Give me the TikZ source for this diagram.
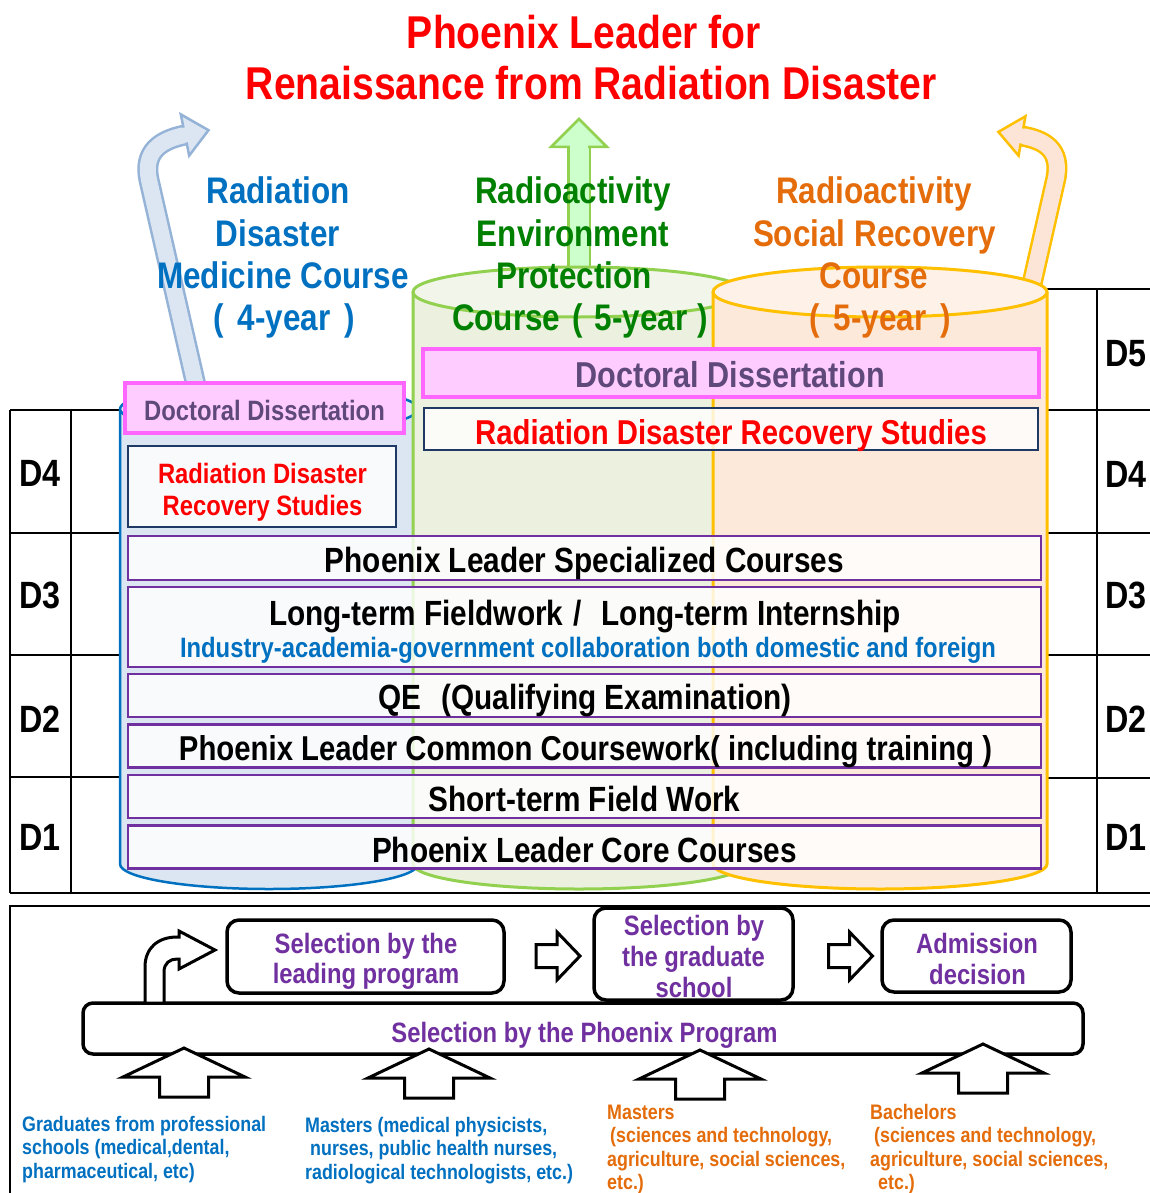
\documentclass[tikz,border=0pt]{standalone}
\usepackage{fontspec}
\setmainfont{Liberation Sans}[FakeStretch=0.85]
\usetikzlibrary{calc}
\definecolor{tred}{HTML}{FF0000}
\definecolor{cblue}{HTML}{0070C0}
\definecolor{cgreen}{HTML}{008000}
\definecolor{corange}{HTML}{E46C0A}
\definecolor{purp}{HTML}{7030A0}
\definecolor{docc}{HTML}{5F497A}
\definecolor{pinkf}{HTML}{FFCCFF}
\definecolor{pinkd}{HTML}{FF66FF}
\definecolor{navy}{HTML}{1F3864}
\definecolor{bfill}{HTML}{DCE6F2}
\definecolor{btop}{HTML}{E8EEF7}
\definecolor{gfill}{HTML}{EBF1DE}
\definecolor{gtop}{HTML}{F2F6EA}
\definecolor{gline}{HTML}{92D050}
\definecolor{ofill}{HTML}{FDE9D9}
\definecolor{otop}{HTML}{FEF1E8}
\definecolor{oline}{HTML}{FFC000}
\definecolor{barrl}{HTML}{95B3D7}
\definecolor{garrf}{HTML}{CCFFCC}
\definecolor{oarrf}{HTML}{FCE4D6}
\newcommand\rarr[1]{\draw[blk,shift={#1}] (-22,-11.5) -- (-1,-11.5) -- (-1,-24) -- (22,0) -- (-1,24) -- (-1,11.5) -- (-22,11.5) -- cycle;}
\newcommand\uarr[1]{\draw[blk,shift={#1}] (0,0) -- (61,29) -- (24.5,29) -- (24.5,49) -- (-24.5,49) -- (-24.5,29) -- (-61,29) -- cycle;}
\begin{document}
\begin{tikzpicture}[x=1pt,y=-1pt,
  tx/.style={inner sep=0pt, anchor=base, font=\bfseries\fontsize{#1}{#1}\selectfont},
  txl/.style={inner sep=0pt, anchor=base west, font=\bfseries\fontsize{#1}{#1}\selectfont},
  tbl/.style={line width=2pt, draw=black},
  pbox/.style={draw=purp, line width=2.5pt, fill=white, fill opacity=0.82, inner sep=0pt, minimum width=913pt},
  dbox/.style={draw=pinkd, line width=3.5pt, fill=pinkf, inner sep=0pt},
  nbox/.style={draw=navy, line width=2pt, fill=white, fill opacity=0.8, inner sep=0pt},
  rbox/.style={draw=black, line width=3.5pt, rounded corners=12pt, fill=white, inner sep=0pt},
  blk/.style={draw=black, line width=3pt, fill=white, line join=miter},
]
\useasboundingbox (0,0) rectangle (1150,1193);
\fill[white] (0,0) rectangle (1150,1193);

% ---------- tables ----------
\draw[tbl] (10,410) -- (122,410) (10,533) -- (122,533) (10,655) -- (122,655) (10,777) -- (122,777);
\draw[tbl] (10,410) -- (10,893) (71,410) -- (71,893);
\draw[tbl] (10,893) -- (1150,893);
\draw[tbl] (1040,289) -- (1150,289) (1040,410) -- (1150,410) (1040,533) -- (1150,533) (1040,655) -- (1150,655) (1040,778) -- (1150,778);
\draw[tbl] (1097,289) -- (1097,893);

% ---------- arrows to the top ----------
\draw[draw=barrl, double=bfill, double distance=16pt, line width=2.5pt] (197,390) -- (149,180) .. controls (143,152) and (160,140) .. (185,135);
\filldraw[fill=bfill, draw=barrl, line width=2.5pt, line join=miter] (180.8,114.4) -- (208.5,130.2) -- (189.2,155.6) -- cycle;
\draw[bfill, line width=15pt] (179.1,136.2) -- (188,134.4);

\draw[draw=gline, double=garrf, double distance=19pt, line width=2.5pt] (579,290) -- (579,147);
\filldraw[fill=garrf, draw=gline, line width=2.5pt, line join=miter] (551,147) -- (579,119) -- (607,147) -- cycle;
\draw[garrf, line width=18pt] (579,152) -- (579,143);

\draw[draw=oline, double=oarrf, double distance=16pt, line width=2.5pt] (1031,288) -- (1056,178) .. controls (1061,150) and (1045,140) .. (1022,136);
\filldraw[fill=oarrf, draw=oline, line width=2.5pt, line join=miter] (1025.4,116.3) -- (998.4,131.9) -- (1018.6,155.7) -- cycle;
\draw[oarrf, line width=15pt] (1027.9,137.0) -- (1019.0,135.5);

% ---------- cylinders ----------
\fill[bfill] (120,409) -- (120,864) arc[start angle=180,end angle=360,x radius=149pt,y radius=25pt] -- (418,409) -- cycle;
\draw[cblue, line width=2.5pt] (120,409) -- (120,864) arc[start angle=180,end angle=360,x radius=149pt,y radius=25pt] -- (418,409);
\filldraw[fill=btop, draw=cblue, line width=2.5pt] (269,409) ellipse[x radius=149pt, y radius=24pt];

\fill[gfill] (413,292) -- (413,864) arc[start angle=180,end angle=360,x radius=166pt,y radius=25pt] -- (745,292) -- cycle;
\draw[gline, line width=3pt] (413,292) -- (413,864) arc[start angle=180,end angle=360,x radius=166pt,y radius=25pt] -- (745,292);
\filldraw[fill=gtop, draw=gline, line width=3pt] (579,292) ellipse[x radius=166pt, y radius=25pt];

\fill[ofill] (713,292) -- (713,864) arc[start angle=180,end angle=360,x radius=167pt,y radius=25pt] -- (1047,292) -- cycle;
\draw[oline, line width=3pt] (713,292) -- (713,864) arc[start angle=180,end angle=360,x radius=167pt,y radius=25pt] -- (1047,292);
\filldraw[fill=otop, draw=oline, line width=3pt] (880,292) ellipse[x radius=167pt, y radius=25pt];

% ---------- boxes ----------
\node[dbox, minimum width=279pt, minimum height=50pt] (dl) at (264.5,408) {};
\node[dbox, minimum width=616pt, minimum height=48pt] (dr) at (731,373) {};
\node[nbox, minimum width=268pt, minimum height=81pt] (rl) at (262,486.5) {};
\node[nbox, minimum width=614pt, minimum height=42pt] (rr) at (731,429) {};
\node[pbox, minimum height=44pt] (b1) at (584.5,558) {};
\node[pbox, minimum height=80pt] (b2) at (584.5,627) {};
\node[pbox, minimum height=43pt] (b3) at (584.5,695.5) {};
\node[pbox, minimum height=43pt] (b4) at (584.5,746) {};
\node[pbox, minimum height=43pt] (b5) at (584.5,796.5) {};
\node[pbox, minimum height=43pt] (b6) at (584.5,847) {};

% ---------- box texts ----------
\node[tx=28, text=docc] (dlt) at (264.5,420) {Doctoral Dissertation};
\node[tx=36, text=docc] (drt) at (730,387.5) {Doctoral Dissertation};
\node[tx=28, text=tred] (rlt1) at (262.5,483) {Radiation Disaster};
\node[tx=28, text=tred] (rlt2) at (262.5,515) {Recovery Studies};
\node[tx=34.5, text=tred] (rrt) at (731,444) {Radiation Disaster Recovery Studies};
\node[tx=35] (x1) at (584.5,572.5) {Phoenix Leader Specialized Courses};
\node[tx=35] (x2) at (585,625.5) {Long-term Fieldwork\hskip 10pt/\hskip 20pt Long-term Internship};
\node[tx=28, text=cblue] (x3) at (588,657) {Industry-academia-government collaboration both domestic and foreign};
\node[tx=35] (x4) at (585,709.5) {QE\hskip 20pt(Qualifying Examination)};
\node[tx=34.5] (x5) at (585.5,760.5) {Phoenix Leader Common Coursework( including training )};
\node[tx=35] (x6) at (584.5,811.5) {Short-term Field Work};
\node[tx=35] (x7) at (584.5,862.5) {Phoenix Leader Core Courses};

% ---------- D labels ----------
\node[tx=38] (l4) at (40,486.5) {D4};
\node[tx=38] (l3) at (40,608.5) {D3};
\node[tx=38] (l2) at (40,732) {D2};
\node[tx=38] (l1) at (40,850) {D1};
\node[tx=38] (r5) at (1126,366) {D5};
\node[tx=38] (r4) at (1126,487) {D4};
\node[tx=38] (r3) at (1126,608.5) {D3};
\node[tx=38] (r2) at (1126,732) {D2};
\node[tx=38] (r1) at (1126,850) {D1};

% ---------- title ----------
\node[tx=46, text=tred] (t1) at (584,48.5) {Phoenix Leader for};
\node[tx=46, text=tred] (t2) at (591.5,99.5) {Renaissance from Radiation Disaster};

% ---------- course labels ----------
\node[tx=37, text=cblue] (c11) at (278,204) {Radiation};
\node[tx=37, text=cblue] (c12) at (278,246) {Disaster};
\node[tx=37, text=cblue] (c13) at (283,288) {Medicine Course};
\node[tx=37, text=cblue] (c14) at (284,330) {(\hskip 14pt 4-year\hskip 14pt)};
\node[tx=37, text=cgreen] (c21) at (573,204) {Radioactivity};
\node[tx=37, text=cgreen] (c22) at (573,246) {Environment};
\node[tx=37, text=cgreen] (c23) at (574,288) {Protection};
\node[tx=37, text=cgreen] (c24) at (580,330) {Course\hskip 12pt(\hskip 12pt 5-year\hskip 10pt)};
\node[tx=37, text=corange] (c31) at (874,204) {Radioactivity};
\node[tx=37, text=corange] (c32) at (874.5,246) {Social Recovery};
\node[tx=37, text=corange] (c33) at (874,288) {Course};
\node[tx=37, text=corange] (c34) at (880,330) {(\hskip 14pt 5-year\hskip 14pt)};

% ---------- selection section ----------
\draw[line width=2pt] (10,1193) -- (10,906) -- (1150,906);
\node[rbox, minimum width=277pt, minimum height=73pt] (s1) at (365.5,956.5) {};
\node[rbox, minimum width=199pt, minimum height=92pt] (s2) at (693.5,954) {};
\node[rbox, minimum width=189pt, minimum height=72pt] (s3) at (976.5,956) {};
\node[rbox, rounded corners=10pt, minimum width=1000pt, minimum height=51pt] (bar) at (583,1028.5) {};

\node[tx=28, text=purp] (s1a) at (366,953) {Selection by the};
\node[tx=28, text=purp] (s1b) at (366,983) {leading program};
\node[tx=28, text=purp] (s2a) at (694,935) {Selection by};
\node[tx=28, text=purp] (s2b) at (693.5,966) {the graduate};
\node[tx=28, text=purp] (s2c) at (694,997) {school};
\node[tx=28, text=purp] (s3a) at (977,953) {Admission};
\node[tx=28, text=purp] (s3b) at (977.5,984) {decision};
\node[tx=28, text=purp] (bart) at (584.5,1042) {Selection by the Phoenix Program};

\rarr{(558,956)}
\rarr{(850.5,956)}
\draw[blk] (145,1003) -- (145,967) .. controls (145,948) and (158,937) .. (177,937) -- (179,937) -- (179,931) -- (215,950) -- (179,969) -- (179,959) -- (177,959) .. controls (170,959) and (164,963) .. (164,972) -- (164,1003) -- cycle;
\uarr{(184,1048)}
\uarr{(429,1049)}
\uarr{(700,1050)}
\uarr{(983,1044)}

% ---------- bottom texts ----------
\node[txl=21, text=cblue] (g1) at (22,1131) {Graduates from professional};
\node[txl=21, text=cblue] (g2) at (22,1154.5) {schools (medical,dental,};
\node[txl=21, text=cblue] (g3) at (22,1178) {pharmaceutical, etc)};
\node[txl=21, text=cblue] (m1) at (305,1132) {Masters (medical physicists,};
\node[txl=21, text=cblue] (m2) at (310,1155.5) {nurses, public health nurses,};
\node[txl=21, text=cblue] (m3) at (305,1179) {radiological technologists, etc.)};
\node[txl=21, text=corange] (o1) at (607,1119) {Masters};
\node[txl=21, text=corange] (o2) at (610,1142.5) {(sciences and technology,};
\node[txl=21, text=corange] (o3) at (607,1166) {agriculture, social sciences,};
\node[txl=21, text=corange] (o4) at (607,1189.5) {etc.)};
\node[txl=21, text=corange] (p1) at (870,1119) {Bachelors};
\node[txl=21, text=corange] (p2) at (874,1142.5) {(sciences and technology,};
\node[txl=21, text=corange] (p3) at (870,1166) {agriculture, social sciences,};
\node[txl=21, text=corange] (p4) at (878,1189.5) {etc.)};
\end{tikzpicture}
\end{document}
